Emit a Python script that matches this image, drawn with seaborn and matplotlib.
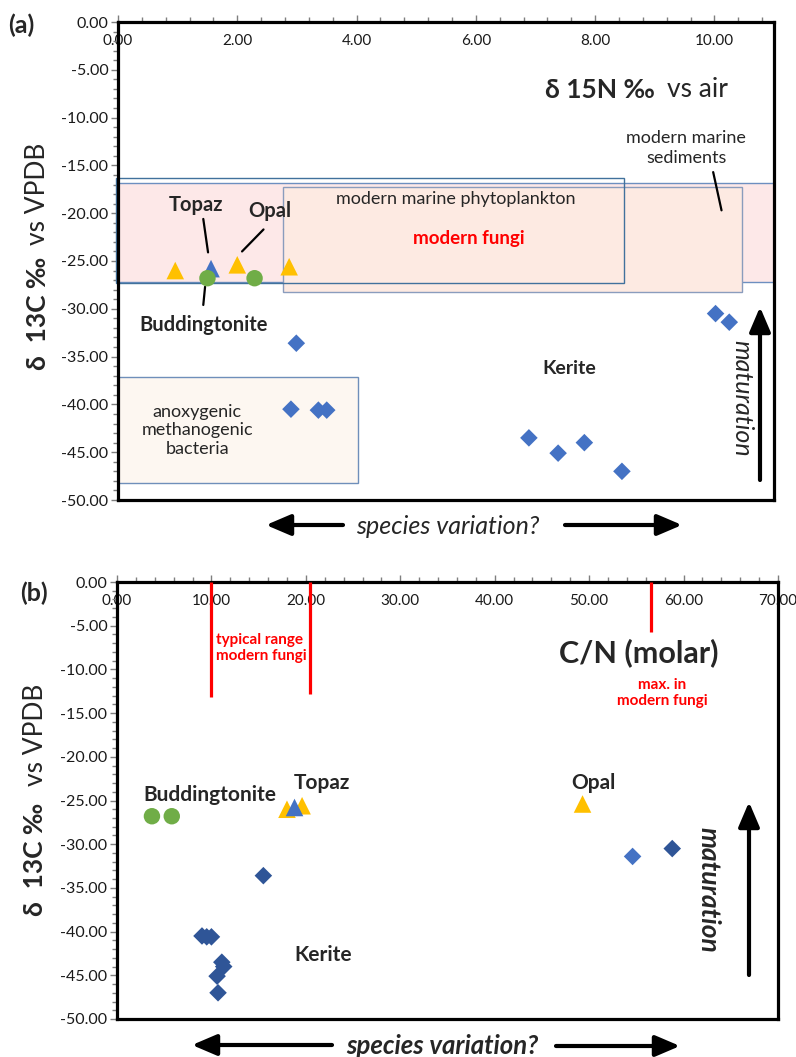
import matplotlib
matplotlib.use("Agg")
import matplotlib.pyplot as plt
import seaborn as sns
import pandas as pd
from matplotlib.patches import Rectangle, FancyArrowPatch
from matplotlib.ticker import MultipleLocator, FormatStrFormatter

sns.set_style("white")
plt.rcParams["font.family"] = ["Lato", "DejaVu Sans"]

# ---------------- data ----------------
kerite_d15n = [2.99, 2.90, 3.36, 3.50, 6.89, 7.38, 7.82, 8.45, 10.02, 10.25]
kerite_d13c = [-33.6, -40.5, -40.6, -40.6, -43.5, -45.1, -44.0, -47.0, -30.5, -31.4]
kerite_cn = [15.5, 9.0, 9.5, 10.0, 11.1, 10.6, 11.3, 10.7, 58.8, 54.6]
kerite_shade_b = ["dark", "dark", "dark", "dark", "dark", "dark", "dark", "dark", "dark", "light"]

opal_d15n = [0.96, 2.00, 2.87]
opal_d13c = [-26.0, -25.4, -25.6]
opal_cn = [18.0, 49.3, 19.6]

topaz_d15n = [1.56]
topaz_d13c = [-25.8]
topaz_cn = [18.8]

budd_d15n = [1.50, 2.29]
budd_d13c = [-26.8, -26.8]
budd_cn = [3.7, 5.8]

# reference ranges
fungi_cn_lines = [10.0, 20.4, 56.5]
fungi_cn_line_bottoms = [-13.2, -12.8, -5.7]

kerite = pd.DataFrame({"d15N": kerite_d15n, "d13C": kerite_d13c, "CN": kerite_cn,
                       "shade": kerite_shade_b})
opal = pd.DataFrame({"d15N": opal_d15n, "d13C": opal_d13c, "CN": opal_cn})
topaz = pd.DataFrame({"d15N": topaz_d15n, "d13C": topaz_d13c, "CN": topaz_cn})
budd = pd.DataFrame({"d15N": budd_d15n, "d13C": budd_d13c, "CN": budd_cn})

ORANGE = "#FFC000"
BLUE = "#4472C4"
DARKBLUE = "#2F5597"
GREEN = "#70AD47"

W, H = 796, 1057
fig = plt.figure(figsize=(W / 100, H / 100), dpi=100)


def fx(px):
    return px / W


def fy(py):
    return 1 - py / H


ax_a = fig.add_axes([fx(118), fy(500), fx(774) - fx(118), fy(22) - fy(500)])
ax_b = fig.add_axes([fx(117), fy(1019), fx(778) - fx(117), fy(582) - fy(1019)])


def style_axis(ax, xmax, xmaj, xmin):
    ax.set_xlim(0, xmax)
    ax.set_ylim(-50, 0)
    ax.xaxis.set_major_locator(MultipleLocator(xmaj))
    ax.xaxis.set_minor_locator(MultipleLocator(xmin))
    ax.yaxis.set_major_locator(MultipleLocator(5))
    ax.yaxis.set_minor_locator(MultipleLocator(1))
    ax.xaxis.set_major_formatter(FormatStrFormatter("%.2f"))
    ax.yaxis.set_major_formatter(FormatStrFormatter("%.2f"))
    ax.tick_params(axis="x", which="both", top=True, bottom=False, labeltop=True,
                   labelbottom=False, direction="out", color="#7f7f7f")
    ax.tick_params(axis="x", which="major", length=5, width=1, pad=-23.5,
                   labelsize=11, labelcolor="#1a1a1a")
    ax.tick_params(axis="x", which="minor", length=3.5, width=1)
    ax.tick_params(axis="y", which="both", left=True, direction="out", color="#7f7f7f")
    ax.tick_params(axis="y", which="major", length=5, width=1, pad=2,
                   labelsize=11.5, labelcolor="#1a1a1a")
    ax.tick_params(axis="y", which="minor", length=3.5, width=1)
    for s in ax.spines.values():
        s.set_visible(True)
        s.set_color("black")
        s.set_linewidth(2.3)


def draw_points(ax, xcol, kerite_colors):
    sns.scatterplot(data=opal, x=xcol, y="d13C", ax=ax, marker="^", s=160,
                    color=ORANGE, edgecolor="none", zorder=5, legend=False)
    sns.scatterplot(data=topaz, x=xcol, y="d13C", ax=ax, marker="^", s=160,
                    color=BLUE, edgecolor="none", zorder=6, legend=False)
    sns.scatterplot(data=budd, x=xcol, y="d13C", ax=ax, marker="o", s=140,
                    color=GREEN, edgecolor="none", zorder=7, legend=False)
    sns.scatterplot(data=kerite, x=xcol, y="d13C", ax=ax, marker="D", s=80,
                    hue="shade", palette=kerite_colors, edgecolor="none",
                    zorder=8, legend=False)
    ax.set_xlabel("")
    ax.set_ylabel("")


def ylabel(ax, xfrac, y_bold, y_norm):
    ax.text(xfrac, y_bold, "δ  13C ‰", rotation=90, transform=ax.transAxes,
            ha="center", va="center", fontsize=19, fontweight="bold", clip_on=False)
    ax.text(xfrac, y_norm, "vs VPDB", rotation=90, transform=ax.transAxes,
            ha="center", va="center", fontsize=19, clip_on=False)


def fig_arrow(x0, y0, x1, y1, hw=0.32, hl=0.75):
    fig.add_artist(FancyArrowPatch(
        (fx(x0), fy(y0)), (fx(x1), fy(y1)), transform=fig.transFigure,
        arrowstyle=f"-|>,head_length={hl},head_width={hw}", mutation_scale=20,
        lw=3, color="black", shrinkA=0, shrinkB=0))


def leader(ax, p0, p1):
    ax.annotate("", xy=p1, xytext=p0,
                arrowprops=dict(arrowstyle="-", lw=1.6, color="black", shrinkA=0, shrinkB=0))


# ---------------- panel (a) ----------------
style_axis(ax_a, 11.0, 2, 0.4)

ax_a.add_patch(Rectangle((0, -27.2), 11.0, 10.4, facecolor="#fde8e8",
                         edgecolor="#6d8fc0", lw=1.0, zorder=1))
ax_a.add_patch(Rectangle((2.77, -28.2), 10.47 - 2.77, 10.9, facecolor="#fdeae2",
                         edgecolor="#8a9cbd", lw=1.0, zorder=1.5))
ax_a.add_patch(Rectangle((-0.03, -27.3), 8.52, 11.0, facecolor="none",
                         edgecolor="#41719c", lw=1.0, zorder=2, clip_on=False))
ax_a.add_patch(Rectangle((0.0, -48.2), 4.03, 11.1, facecolor="#fdf7f1",
                         edgecolor="#6f8fba", lw=1.0, zorder=1))

draw_points(ax_a, "d15N", {"dark": BLUE, "light": BLUE})

ax_a.text(8.08, -7.1, "δ 15N ‰", fontsize=19, fontweight="bold", ha="center", va="center")
ax_a.text(9.72, -7.1, "vs air", fontsize=19, ha="center", va="center")
ax_a.text(9.53, -13.2, "modern marine\nsediments", fontsize=13, ha="center",
          va="center", linespacing=1.3)
leader(ax_a, (9.98, -15.7), (10.12, -19.7))
ax_a.text(5.66, -18.5, "modern marine phytoplankton", fontsize=13, ha="center",
          va="center", zorder=9)
ax_a.text(5.88, -22.6, "modern fungi", fontsize=13.5, fontweight="bold",
          color="#ff0000", ha="center", va="center", zorder=9)
ax_a.text(1.31, -19.1, "Topaz", fontsize=14.5, fontweight="bold", ha="center", va="center")
leader(ax_a, (1.43, -20.6), (1.51, -24.1))
ax_a.text(2.55, -19.8, "Opal", fontsize=14.5, fontweight="bold", ha="center", va="center")
leader(ax_a, (2.44, -21.7), (2.08, -24.0))
ax_a.text(1.43, -31.7, "Buddingtonite", fontsize=14.5, fontweight="bold", ha="center",
          va="center")
leader(ax_a, (1.46, -27.7), (1.43, -29.6))
ax_a.text(7.56, -36.2, "Kerite", fontsize=14, fontweight="bold", ha="center", va="center")
ax_a.text(1.33, -42.7, "anoxygenic\nmethanogenic\nbacteria", fontsize=13, ha="center",
          va="center", linespacing=1.2)
ylabel(ax_a, -0.122, 0.39, 0.64)

fig.text(fx(21), fy(25), "(a)", fontsize=18, fontweight="bold", ha="center", va="center")
fig_arrow(343, 525, 266, 525)
fig_arrow(565, 525, 682, 525)
fig.text(fx(448), fy(526), "species variation?", fontsize=18, fontstyle="italic",
         ha="center", va="center")
fig_arrow(760, 480, 760, 307)
fig.text(fx(742), fy(398), "maturation", fontsize=18, fontstyle="italic", rotation=-90,
         ha="center", va="center")

# ---------------- panel (b) ----------------
style_axis(ax_b, 70, 10, 2)
ax_b.vlines(fungi_cn_lines, fungi_cn_line_bottoms, 0, colors="#ff0000", lw=2.3, zorder=3)
draw_points(ax_b, "CN", {"dark": DARKBLUE, "light": BLUE})

ax_b.text(10.5, -7.55, "typical range\nmodern fungi", fontsize=11, fontweight="bold",
          color="#ff0000", ha="left", va="center", linespacing=1.25)
ax_b.text(55.3, -8.1, "C/N (molar)", fontsize=22, fontweight="bold", ha="center", va="center")
ax_b.text(57.7, -12.7, "max. in\nmodern fungi", fontsize=11, fontweight="bold",
          color="#ff0000", ha="center", va="center", linespacing=1.25)
ax_b.text(9.85, -24.4, "Buddingtonite", fontsize=15, fontweight="bold", ha="center",
          va="center")
ax_b.text(21.7, -23.0, "Topaz", fontsize=15, fontweight="bold", ha="center", va="center")
ax_b.text(50.5, -23.0, "Opal", fontsize=15, fontweight="bold", ha="center", va="center")
ax_b.text(21.8, -42.7, "Kerite", fontsize=15, fontweight="bold", ha="center", va="center")
ylabel(ax_b, -0.124, 0.364, 0.65)

fig.text(fx(34), fy(593), "(b)", fontsize=18, fontweight="bold", ha="center", va="center")
fig_arrow(332, 1045, 192, 1045)
fig_arrow(556, 1046, 680, 1046)
fig.text(fx(442), fy(1046), "species variation?", fontsize=18.5, fontstyle="italic",
         fontweight="bold", ha="center", va="center")
fig_arrow(749, 975, 749, 802)
fig.text(fx(708), fy(890), "maturation", fontsize=19, fontstyle="italic", fontweight="bold",
         rotation=-90, ha="center", va="center")

fig.savefig("out.png", dpi=100)
